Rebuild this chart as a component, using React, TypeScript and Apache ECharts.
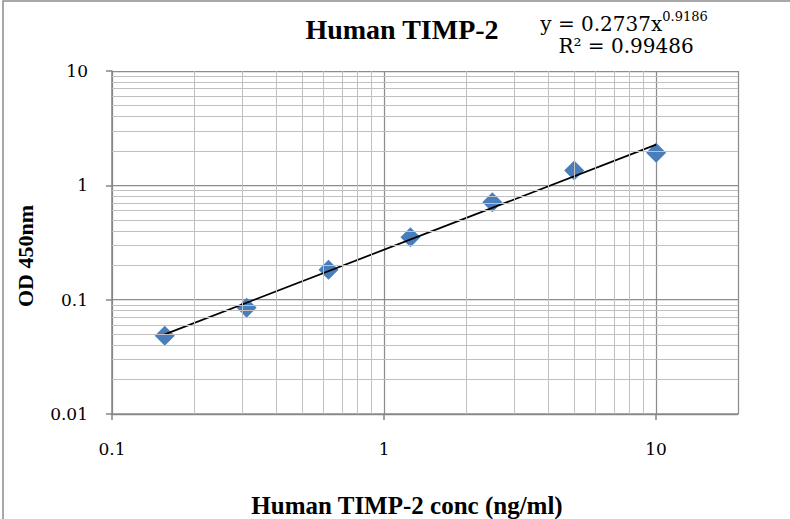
import React, { useEffect, useRef } from "react";
import * as echarts from "echarts";

// Standard curve data (concentration ng/ml vs OD 450nm)
const concentrations = [0.15625, 0.3125, 0.625, 1.25, 2.5, 5, 10];
const odValues = [0.0484, 0.085, 0.183, 0.352, 0.71, 1.35, 1.93];

// Power trendline endpoints (y = 0.2737x^0.9186)
const trendX = [0.15625, 10];
const trendY = [0.0497, 2.27];

// Minor log gridline values
const xMinorTicks = [0.2, 0.3, 0.4, 0.5, 0.6, 0.7, 0.8, 0.9, 2, 3, 4, 5, 6, 7, 8, 9];
const yMinorTicks = [
  0.02, 0.03, 0.04, 0.05, 0.06, 0.07, 0.08, 0.09,
  0.2, 0.3, 0.4, 0.5, 0.6, 0.7, 0.8, 0.9,
  2, 3, 4, 5, 6, 7, 8, 9,
];

const titleText = "Human TIMP-2";
const xTitle = "Human TIMP-2 conc (ng/ml)";
const yTitle = "OD 450nm";
const eqCoef = "y = 0.2737x";
const eqExp = "0.9186";
const r2Text = "R² = 0.99486";

const FONT = "'Liberation Serif', 'Times New Roman', serif";
const FONT2 = "'DejaVu Serif', serif";

export default function App() {
  const ref = useRef<HTMLDivElement>(null);

  useEffect(() => {
    if (!ref.current) return;
    const chart = echarts.init(ref.current, null, { renderer: "svg" });

    const fmt = (v: number) => String(+Number(v).toPrecision(3));

    const option: any = {
      animation: false,
      backgroundColor: "#ffffff",
      grid: { left: 112, right: 52, top: 71, bottom: 105, containLabel: false },
      xAxis: {
        type: "log",
        logBase: 10,
        min: 0.1,
        max: 20,
        axisLine: { show: true, lineStyle: { color: "#868686", width: 1.5 } },
        axisTick: { show: true, inside: false, length: 6, lineStyle: { color: "#868686", width: 1.5 } },
        axisLabel: {
          margin: 26,
          fontFamily: FONT2,
          fontSize: 17,
          color: "#000",
          showMaxLabel: false,
          formatter: fmt,
        },
        splitLine: { show: true, lineStyle: { color: "#8c8c8c", width: 1.25 } },
        minorTick: { show: false },
      },
      yAxis: {
        type: "log",
        logBase: 10,
        min: 0.01,
        max: 10,
        axisLine: { show: true, lineStyle: { color: "#868686", width: 1.5 } },
        axisTick: { show: true, inside: false, length: 6, lineStyle: { color: "#868686", width: 1.5 } },
        axisLabel: {
          margin: 24,
          fontFamily: FONT2,
          fontSize: 17,
          color: "#000",
          formatter: fmt,
        },
        splitLine: { show: true, lineStyle: { color: "#8c8c8c", width: 1.25 } },
      },
      series: [
        {
          type: "line",
          name: "minor-grid",
          data: [],
          z: 1,
          silent: true,
          markLine: {
            silent: true,
            symbol: ["none", "none"],
            label: { show: false },
            lineStyle: { color: "#c0c0c0", width: 1, type: "solid" },
            emphasis: { disabled: true },
            data: [
              ...xMinorTicks.map((v) => ({ xAxis: v })),
              ...yMinorTicks.map((v) => ({ yAxis: v })),
            ],
          },
        },
        {
          type: "scatter",
          name: "Standard",
          symbol: "diamond",
          symbolSize: 20,
          z: 3,
          itemStyle: { color: "#4A7EBB", opacity: 1 },
          data: concentrations.map((c, i) => [c, odValues[i]]),
        },
        {
          type: "line",
          name: "Trend",
          symbol: "none",
          z: 4,
          lineStyle: { color: "#000", width: 1.75 },
          data: trendX.map((x, i) => [x, trendY[i]]),
        },
      ],
      graphic: [
        {
          type: "polyline",
          silent: true,
          shape: { points: [[3, 519], [3, 1], [790, 1]] },
          style: { stroke: "#8c8c8c", lineWidth: 1.5, fill: "none" },
        },
        {
          type: "text",
          x: 402,
          y: 29,
          style: {
            text: titleText,
            font: `bold 28px ${FONT}`,
            fill: "#000",
            align: "center",
            verticalAlign: "middle",
          },
        },
        {
          type: "text",
          x: 624,
          y: 22,
          style: {
            text: `{a|${eqCoef}}{s|${eqExp}}`,
            align: "center",
            verticalAlign: "middle",
            rich: {
              a: { fontFamily: FONT2, fontSize: 20, color: "#000", lineHeight: 24, verticalAlign: "bottom" },
              s: { fontFamily: FONT2, fontSize: 13, color: "#000", lineHeight: 24, verticalAlign: "top" },
            },
          },
        },
        {
          type: "text",
          x: 626,
          y: 46,
          style: {
            text: r2Text,
            font: `20px ${FONT2}`,
            fill: "#000",
            align: "center",
            verticalAlign: "middle",
          },
        },
        {
          type: "text",
          x: 407,
          y: 505,
          style: {
            text: xTitle,
            font: `bold 25px ${FONT}`,
            fill: "#000",
            align: "center",
            verticalAlign: "middle",
          },
        },
        {
          type: "text",
          x: 25,
          y: 256,
          rotation: Math.PI / 2,
          style: {
            text: yTitle,
            font: `bold 22px ${FONT}`,
            fill: "#000",
            align: "center",
            verticalAlign: "middle",
          },
        },
      ],
    };

    chart.setOption(option);
    return () => chart.dispose();
  }, []);

  return (
    <div
      ref={ref}
      style={{ position: "fixed", left: 0, top: 0, width: 790, height: 519, background: "#fff" }}
    />
  );
}
